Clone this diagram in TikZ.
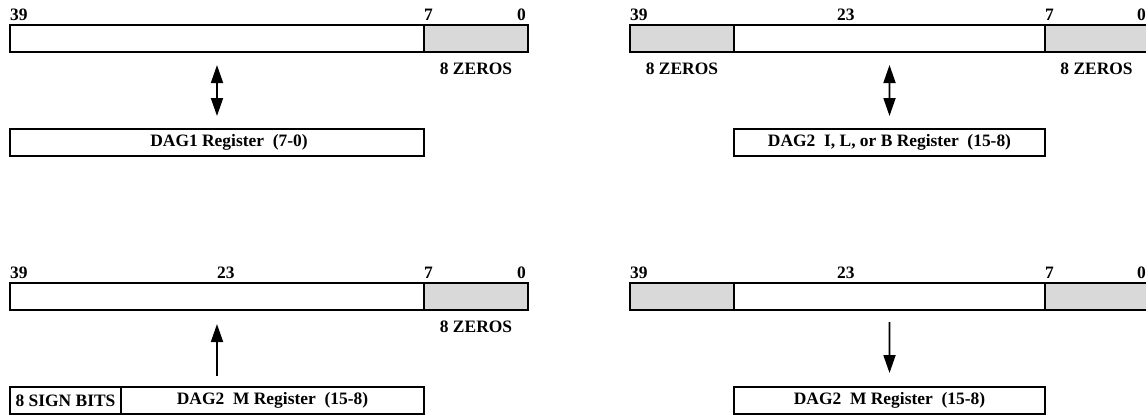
\documentclass[tikz,border=0pt]{standalone}
\usepackage{fontspec}
\setmainfont{Liberation Serif}
\usetikzlibrary{
  arrows.meta,
  positioning
}
\newcommand{\regfont}{\fontsize{17.5}{20}\selectfont\bfseries}
\definecolor{zerogray}{RGB}{217,217,217}
\tikzset{
  regcell/.style={
    draw,
    line width=1.8bp,
    minimum height=27bp,
    inner sep=0pt,
    outer sep=0pt,
    font=\regfont
  },
  zerocell/.style={regcell,fill=zerogray},
  bitnum/.style={font=\regfont,inner sep=0pt,anchor=base west,yshift=5bp},
  zerolabel/.style={font=\regfont,inner sep=0pt},
  movearrow/.style={-{Triangle[length=18bp,width=12bp]},line width=1.8bp},
  swaparrow/.style={{Triangle[length=18bp,width=12bp]}-{Triangle[length=18bp,width=12bp]},line width=1.8bp}
}

\begin{document}
\begin{tikzpicture}[x=1bp,y=-1bp]
  \useasboundingbox (0,0) rectangle (1146,414);

  % DAG1 register into bits 39-8
  \node[regcell,minimum width=414bp,anchor=north west] (a39) at (10,25) {};
  \node[zerocell,minimum width=104bp,right=0pt of a39] (a7) {};
  \node[bitnum] at (a39.north west) {39};
  \node[bitnum] at (a7.north west) {7};
  \node[bitnum,anchor=base east,xshift=-2bp] at (a7.north east) {0};
  \node[zerolabel,below=11bp of a7] (a7z) {8 ZEROS};
  \node[regcell,minimum width=414bp,anchor=north west] (dag1) at (10,129) {\hspace{24bp}DAG1 Register\ \ (7-0)};
  \draw[swaparrow,shorten <=13bp,shorten >=13bp] (dag1.north) -- (dag1.north |- a39.south);

  % DAG2 I, L or B register into bits 23-8
  \node[zerocell,minimum width=104bp,anchor=north west] (b39) at (630,25) {};
  \node[regcell,minimum width=311bp,right=0pt of b39] (b23) {};
  \node[zerocell,minimum width=103bp,right=0pt of b23] (b7) {};
  \node[bitnum] at (b39.north west) {39};
  \node[bitnum,xshift=207bp] at (b39.north west) {23};
  \node[bitnum] at (b7.north west) {7};
  \node[bitnum,anchor=base east,xshift=-2bp] at (b7.north east) {0};
  \node[zerolabel,below=11bp of b39] (b39z) {8 ZEROS};
  \node[zerolabel,below=11bp of b7] (b7z) {8 ZEROS};
  \node[regcell,minimum width=311bp,anchor=north west] (dag2ilb) at (734,129) {DAG2\ \ I, L, or B Register\ \ (15-8)};
  \draw[swaparrow,shorten <=13bp,shorten >=13bp] (b23.south) -- (dag2ilb.north);

  % DAG2 M register, sign extended
  \node[regcell,minimum width=414bp,anchor=north west] (c39) at (10,283) {};
  \node[zerocell,minimum width=104bp,right=0pt of c39] (c7) {};
  \node[bitnum] at (c39.north west) {39};
  \node[bitnum,xshift=207bp] at (c39.north west) {23};
  \node[bitnum] at (c7.north west) {7};
  \node[bitnum,anchor=base east,xshift=-2bp] at (c7.north east) {0};
  \node[zerolabel,below=11bp of c7] (c7z) {8 ZEROS};
  \node[regcell,minimum width=111bp,anchor=north west] (sign) at (10,387) {8 SIGN BITS};
  \node[regcell,minimum width=303bp,right=0pt of sign] (dag2m) {DAG2\ \ M Register\ \ (15-8)};
  \draw[movearrow,shorten <=11bp,shorten >=14bp] (c39.south |- sign.north) -- (c39.south);

  % bits 23-8 back to DAG2 M register
  \node[zerocell,minimum width=104bp,anchor=north west] (d39) at (630,283) {};
  \node[regcell,minimum width=311bp,right=0pt of d39] (d23) {};
  \node[zerocell,minimum width=103bp,right=0pt of d23] (d7) {};
  \node[bitnum] at (d39.north west) {39};
  \node[bitnum,xshift=207bp] at (d39.north west) {23};
  \node[bitnum] at (d7.north west) {7};
  \node[bitnum,anchor=base east,xshift=-2bp] at (d7.north east) {0};
  \node[regcell,minimum width=311bp,anchor=north west] (dag2mb) at (734,387) {DAG2\ \ M Register\ \ (15-8)};
  \draw[movearrow,shorten <=12bp,shorten >=14bp] (d23.south) -- (dag2mb.north);
\end{tikzpicture}
\end{document}
